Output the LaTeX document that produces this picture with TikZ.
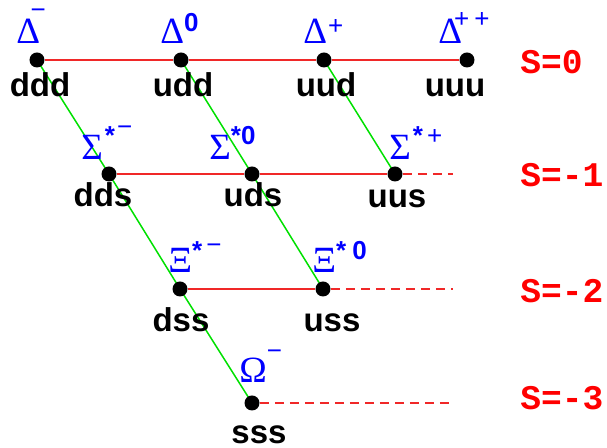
\documentclass[tikz,border=0pt]{standalone}
\usepackage{fontspec}
\setmainfont{Liberation Sans}
\newfontfamily\greekfont{Liberation Serif}
\newfontfamily\strangefont{Liberation Mono}
\usepackage{tikz}
\usetikzlibrary{backgrounds}
\definecolor{DecRed}{HTML}{FF0000}
\definecolor{DecLine}{HTML}{F02828}
\definecolor{DecBlue}{HTML}{0000FF}
\definecolor{DecGreen}{HTML}{00E000}
\newcommand\supfont{\normalfont\fontsize{13}{14}\selectfont}
\tikzset{
  state/.style={circle,fill=black,inner sep=0pt,minimum size=7.5pt},
  quark/.style={anchor=base,inner sep=0pt,font=\fontsize{16.5}{18}\selectfont\bfseries},
  hadron/.style={anchor=base west,inner sep=0pt,text=DecBlue,font=\fontsize{18.5}{20}\selectfont\greekfont},
  strangeness/.style={anchor=base west,inner sep=0pt,text=DecRed,font=\fontsize{17.3}{20}\selectfont\strangefont\bfseries},
  isospin/.style={draw=DecLine,line width=1pt},
  isotail/.style={draw=DecLine,line width=1pt,dash pattern=on 4.5pt off 3pt},
  ladder/.style={draw=DecGreen,line width=0.75pt}
}

\begin{document}
\begin{tikzpicture}[x=0.5pt,y=-0.5pt]
  \useasboundingbox (0,0) rectangle (607,448);

  % states, rows of equal strangeness
  \node[state] (ddd) at (37,60) {};
  \node[state] (udd) at (181,60) {};
  \node[state] (uud) at (324,60) {};
  \node[state] (uuu) at (467,60) {};
  \node[state] (dds) at (109,174) {};
  \node[state] (uds) at (252,174) {};
  \node[state] (uus) at (395,174) {};
  \node[state] (dss) at (180,289) {};
  \node[state] (uss) at (323,289) {};
  \node[state] (sss) at (252,403) {};
  \coordinate (tail1) at (453,174);
  \coordinate (tail2) at (453,289);
  \coordinate (tail3) at (453,403);

  % quark content
  \node[quark] (lddd) at (40,97) {ddd};
  \node[quark] (ludd) at (183,97) {udd};
  \node[quark] (luud) at (326,97) {uud};
  \node[quark] (luuu) at (455,97) {uuu};
  \node[quark] (ldds) at (103,207) {dds};
  \node[quark] (luds) at (253,207) {uds};
  \node[quark] (luus) at (397,208) {uus};
  \node[quark] (ldss) at (181,332) {dss};
  \node[quark] (luss) at (332,332) {uss};
  \node[quark] (lsss) at (259,444) {sss};

  % particle names
  \node[hadron] (DeltaM) at (16,44) {Δ\kern-4.75pt\raise12.5pt\hbox{\supfont −}};
  \node[hadron] (Delta0) at (160,44) {Δ\raise6pt\hbox{\supfont\bfseries 0}};
  \node[hadron] (DeltaP) at (303,44) {Δ\kern0.5pt\raise4.7pt\hbox{\supfont +}};
  \node[hadron] (DeltaPP) at (438,44) {Δ\kern-4pt\raise8.2pt\hbox{\supfont +\kern2.5pt+}};
  \node[hadron] (SigmaM) at (81,160) {Σ\kern1pt\raise7.5pt\hbox{\supfont\bfseries *\kern1pt\raise4.5pt\hbox{\mdseries −}}};
  \node[hadron] (Sigma0) at (209,160) {Σ\raise7.5pt\hbox{\supfont\bfseries *0}};
  \node[hadron] (SigmaP) at (389,160) {Σ\kern1pt\raise7.5pt\hbox{\supfont{\bfseries *}\kern2pt+}};
  \node[hadron] (XiM) at (168,273) {Ξ\raise6.5pt\hbox{\supfont\bfseries *\kern2pt\raise3pt\hbox{\mdseries −}}};
  \node[hadron] (Xi0) at (312,273) {Ξ\raise6.5pt\hbox{\supfont\bfseries *\kern3pt 0}};
  \node[hadron] (OmegaM) at (239,383) {Ω\raise11.5pt\hbox{\supfont −}};

  % strangeness
  \node[strangeness] (s0) at (520,74) {S=0};
  \node[strangeness] (s1) at (520,187) {S=-1};
  \node[strangeness] (s2) at (520,303) {S=-2};
  \node[strangeness] (s3) at (520,410) {S=-3};

  \begin{scope}[on background layer]
    \draw[isospin] (ddd) -- (udd) -- (uud) -- (uuu);
    \draw[isospin] (dds) -- (uds) -- (uus);
    \draw[isospin] (dss) -- (uss);
    \draw[isotail] (uus) -- (tail1);
    \draw[isotail] (uss) -- (tail2);
    \draw[isotail] (sss) -- (tail3);
    \draw[ladder] (ddd.center) -- (dds.center) -- (dss.center) -- (sss.center);
    \draw[ladder] (udd.center) -- (uds.center) -- (uss.center);
    \draw[ladder] (uud.center) -- (uus.center);
  \end{scope}
\end{tikzpicture}
\end{document}
